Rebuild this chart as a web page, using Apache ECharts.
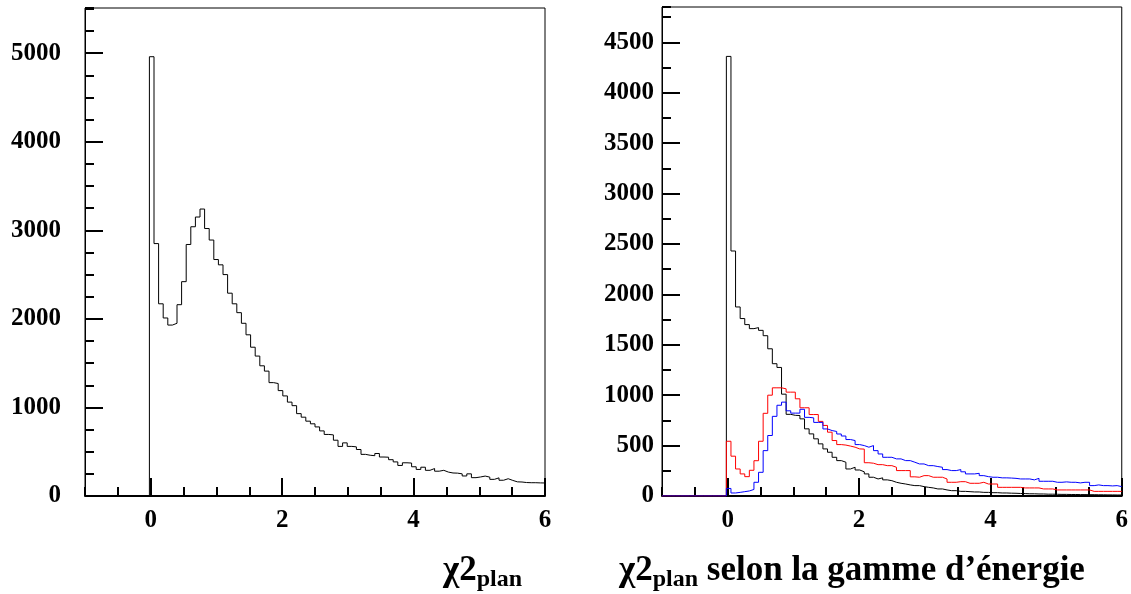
<!DOCTYPE html>
<html>
<head>
<meta charset="utf-8">
<script src="https://cdn.jsdelivr.net/npm/echarts@6/dist/echarts.min.js"></script>
<style>
  html, body { margin: 0; padding: 0; background: #fff; }
  #chart { width: 1131px; height: 594px; }
</style>
</head>
<body>
<div id="chart"></div>
<script>
// Histogram binning: 100 bins of width 0.07 starting at -1
const binLow = -1;
const binWidth = 0.07;

// Left panel: all events
const leftCounts = [
  0,0,0,0,0,0,0,0,0,0,0,0,0,0,
  4960,2850,2170,2010,1930,1950,2160,2420,2840,3040,
  3150,3240,3020,2890,2670,2610,2500,2290,2170,2070,
  1950,1820,1680,1580,1470,1410,1280,1270,1190,1130,
  1060,1020,930,890,845,815,780,735,695,690,
  630,560,600,560,555,525,470,460,455,480,
  440,438,410,385,345,375,372,330,300,325,
  290,310,280,290,270,260,258,250,226,250,
  207,215,225,213,188,205,178,195,176,160,
  158,152,150,150,148,147
];

// Right panel: three energy ranges
const blackCounts = [
  0,0,0,0,0,0,0,0,0,0,0,0,0,0,
  4360,2430,1875,1760,1700,1660,1670,1643,1590,1460,
  1312,1275,1010,810,800,798,765,666,616,567,
  517,467,434,384,351,335,268,285,258,240,
  219,186,169,180,160,152,136,126,119,110,
  103,103,93,86,80,70,70,60,53,53,
  46,46,43,40,40,36,36,33,33,30,
  30,28,27,25,24,22,22,20,20,18,
  18,17,16,16,15,15,14,14,13,13,
  12,12,11,11,10,10
];
const redCounts = [
  0,0,0,0,0,0,0,0,0,0,0,0,0,0,
  543,395,268,219,192,255,350,543,820,1000,
  1073,1073,1063,1030,1030,964,875,875,808,808,
  740,700,633,550,510,505,495,484,467,465,
  330,325,311,311,301,301,285,252,252,252,
  190,186,202,202,186,186,186,169,136,136,
  142,142,126,126,126,136,119,119,119,86,
  86,86,86,86,80,80,80,80,70,70,
  70,60,60,60,60,60,60,60,60,46,
  46,46,46,46,46,46
];
const blueCounts = [
  0,0,0,0,0,0,0,0,0,0,0,0,0,0,
  75,30,36,43,50,65,136,235,450,600,
  790,900,931,845,822,822,860,780,775,730,
  730,665,649,640,615,595,560,550,510,500,
  484,500,450,417,384,384,368,368,351,351,
  335,318,318,301,301,292,285,262,252,252,
  262,240,219,219,225,202,192,186,186,180,
  180,178,175,169,169,169,160,175,146,146,
  146,136,136,140,136,136,130,136,136,103,
  110,103,103,100,103,93
];

// Axis ticks
const xTickLabels = [0, 2, 4, 6];
const leftYTickLabels = [0, 1000, 2000, 3000, 4000, 5000];
const rightYTickLabels = [0, 500, 1000, 1500, 2000, 2500, 3000, 3500, 4000, 4500];
const leftYMax = 5510;
const rightYMax = 4850;

function stepPoints(counts) {
  const pts = counts.map((v, i) => [binLow + i * binWidth, v]);
  pts.push([binLow + counts.length * binWidth, counts[counts.length - 1]]);
  return pts;
}

const labelFont = { fontFamily: 'Liberation Serif', fontWeight: 'bold', fontSize: 25, color: '#000',
  formatter: v => String(v) };

function xAxes(g) {
  return [
    { gridIndex: g, type: 'value', min: -1, max: 6, interval: 0.5, position: 'bottom',
      axisLine: { show: true, onZero: false, lineStyle: { color: '#000', width: 2 } },
      axisTick: { inside: true, length: 9, lineStyle: { color: '#000', width: 2 } },
      axisLabel: { show: false }, splitLine: { show: false } },
    { gridIndex: g, type: 'value', min: -1, max: 6, position: 'bottom',
      axisLine: { show: false, onZero: false },
      axisTick: { inside: true, length: 18, customValues: xTickLabels, lineStyle: { color: '#000', width: 2 } },
      axisLabel: Object.assign({ customValues: xTickLabels, margin: 12 }, labelFont),
      splitLine: { show: false } }
  ];
}
function yAxes(g, max, ticks, margin) {
  return [
    { gridIndex: g, type: 'value', min: 0, max: max, position: 'left',
      axisLine: { show: true, onZero: false, lineStyle: { color: '#000', width: 1 } },
      axisTick: { inside: true, length: 18, customValues: ticks, lineStyle: { color: '#000', width: 2 } },
      axisLabel: Object.assign({ customValues: ticks, margin: margin }, labelFont),
      splitLine: { show: false } },
    { gridIndex: g, type: 'value', min: 0, max: max, interval: 250, position: 'left',
      axisLine: { show: false, onZero: false },
      axisTick: { inside: true, length: 9, lineStyle: { color: '#000', width: 2 } },
      axisLabel: { show: false }, splitLine: { show: false } }
  ];
}
function histSeries(counts, color, xi, yi) {
  return { type: 'line', step: 'end', data: stepPoints(counts), xAxisIndex: xi, yAxisIndex: yi,
    showSymbol: false, symbol: 'none', silent: true, animation: false,
    lineStyle: { color: color, width: 1 } };
}

const titleRich = {
  a: { fontFamily: 'Liberation Serif', fontWeight: 'bold', fontSize: 35, color: '#000', verticalAlign: 'top', lineHeight: 38 },
  b: { fontFamily: 'Liberation Serif', fontWeight: 'bold', fontSize: 24, color: '#000', verticalAlign: 'top', lineHeight: 26, padding: [15, 0, 0, 0] }
};

const chart = echarts.init(document.getElementById('chart'), null, { renderer: 'canvas' });
chart.setOption({
  animation: false,
  backgroundColor: '#fff',
  grid: [
    { left: 85, top: 8, width: 460, height: 488, show: true, borderColor: '#000', borderWidth: 1 },
    { left: 662, top: 7, width: 460, height: 489, show: true, borderColor: '#000', borderWidth: 1 }
  ],
  xAxis: [...xAxes(0), ...xAxes(1)],
  yAxis: [...yAxes(0, leftYMax, leftYTickLabels, 24), ...yAxes(1, rightYMax, rightYTickLabels, 8)],
  title: [
    { right: 609, top: 553, padding: 0,
      text: '{a|χ2}{b|plan}',
      textStyle: { rich: titleRich } },
    { left: 619, top: 553, padding: 0,
      text: '{a|χ2}{b|plan}{a| selon la gamme d’énergie}',
      textStyle: { rich: titleRich } }
  ],
  series: [
    histSeries(leftCounts, '#000', 0, 0),
    histSeries(blackCounts, '#000', 2, 2),
    histSeries(redCounts, '#ff0000', 2, 2),
    histSeries(blueCounts, '#0000ff', 2, 2)
  ]
});
</script>
</body>
</html>
